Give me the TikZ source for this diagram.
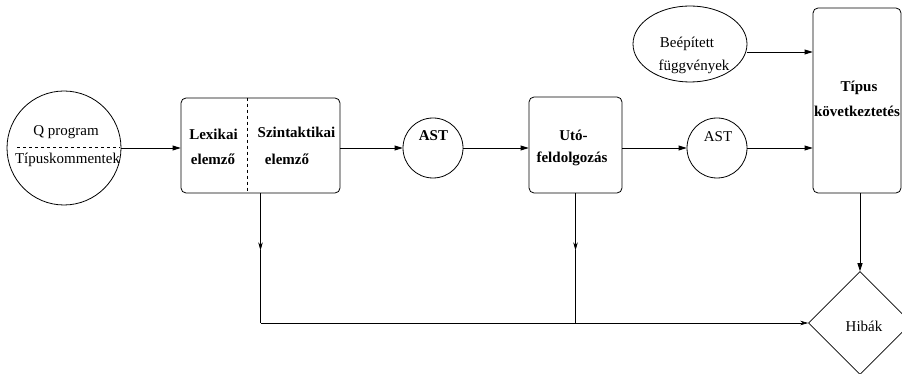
\documentclass[tikz,border=0pt]{standalone}
\usepackage{fontspec}
\setmainfont{Liberation Serif}
\usetikzlibrary{arrows.meta, positioning, calc, shapes.geometric}

\begin{document}
\begin{tikzpicture}[x=1pt, y=-1pt,
  font=\fontsize{15}{18}\selectfont, line width=0.8pt,
  bx/.style  ={draw, rounded corners=5pt, inner sep=0pt},
  rnd/.style ={draw, circle, inner sep=0pt},
  txt/.style ={anchor=base, inner sep=0pt},
  bld/.style ={txt, font=\fontsize{15}{18}\selectfont\bfseries},
  arr/.style ={-{Triangle[length=8pt,width=5pt]}},
  thin/.style={-{Stealth[length=8pt,width=4.5pt,inset=2.5pt]}, line width=0.6pt}
]
\useasboundingbox (0,0) rectangle (902,374);

% the blocks
\node[rnd, minimum size=114pt] (qprog) at (64,148) {};
\node[bx, minimum width=159pt, minimum height=95pt] (lex) at (260.5,145.5) {};
\node[rnd, minimum size=60pt] (ast1) at (433,148) {};
\node[bx, minimum width=93pt, minimum height=96pt] (uto) at (575.5,145) {};
\node[rnd, minimum size=60pt] (ast2) at (717,148) {};
\node[bx, minimum width=88pt, minimum height=185pt] (tip) at (857,100.5) {};
\node[draw, ellipse, inner sep=0pt, minimum width=114pt, minimum height=76pt] (bfv) at (690,44) {};
\node[draw, diamond, inner sep=0pt, line width=0.6pt, minimum width=103pt, minimum height=103pt] (hib) at (860,323) {};

% the texts
\node[txt] (qa) at (66,136) {Q program};
\node[txt] (qb) at (67.5,164) {Típuskommentek};
\draw[dashed] ($(qprog.center)+(-47,-1)$) -- ($(qprog.center)+(56,-1)$);
\node[bld] (lexa) at (213.5,140) {Lexikai};
\node[bld] (lexb) at (213,165) {elemző};
\draw[dashed] (lex.north west) ++(67,0) -- ++(0,95);
\node[bld] (szna) at (296.5,138) {Szintaktikai};
\node[bld] (sznb) at (287,165) {elemző};
\node[bld] (asta) at (433.5,141) {AST};
\node[bld] (utoa) at (573.5,141) {Utó-};
\node[bld] (utob) at (572,163) {feldolgozás};
\node[txt] (astb) at (718,142) {AST};
\node[bld] (tipa) at (859,92) {Típus};
\node[bld] (tipb) at (857,117) {következtetés};
\node[txt] (bfva) at (687,48) {Beépített};
\node[txt] (bfvb) at (694,71) {függvények};
\node[txt] (hiba) at (864,331) {Hibák};

% main line
\draw[arr] (qprog) -- (qprog -| lex.west);
\draw[arr] (ast1 -| lex.east) -- (ast1);
\draw[arr] (ast1) -- (ast1 -| uto.west);
\draw[arr] (ast2 -| uto.east) -- (ast2);
\draw[arr] (ast2) -- (ast2 -| tip.west);
\draw[arr] ([yshift=-8pt]bfv.east) -- ([yshift=-8pt]bfv.east -| tip.west);
\draw[arr] (hib |- tip.south) -- (hib.north);

% errors
\coordinate (c1) at (lex.south |- hib);
\coordinate (c2) at (uto.south |- hib);
\coordinate (m1) at ($(lex.south)!0.44!(c1)$);
\coordinate (m2) at ($(uto.south)!0.44!(c2)$);
\draw[thin] (lex.south) -- (m1);
\draw (m1) -- (c1);
\draw[thin] (uto.south) -- (m2);
\draw (m2) -- (c2);
\draw[thin] (c1) -- (hib.west);
\end{tikzpicture}
\end{document}
